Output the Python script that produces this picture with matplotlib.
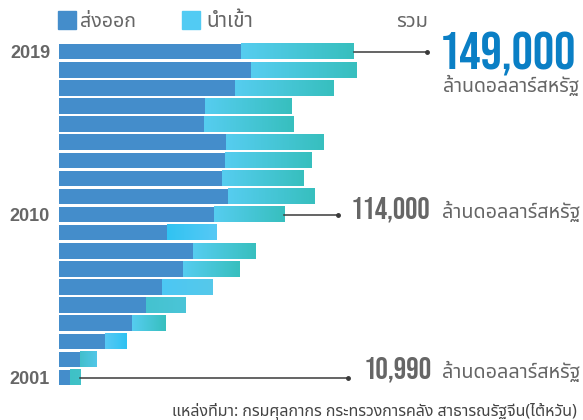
import matplotlib
matplotlib.use("Agg")
import matplotlib.pyplot as plt
import numpy as np
from matplotlib.colors import LinearSegmentedColormap
from matplotlib.patches import Rectangle

# Taiwan-Thailand trade, million USD
years = [2019, 2018, 2017, 2016, 2015, 2014, 2013, 2012, 2011, 2010,
         2009, 2008, 2007, 2006, 2005, 2004, 2003, 2002, 2001]
exports = [92000, 97000, 89000, 74200, 73700, 84800, 84300, 82800, 85400, 78300,
           55000, 67700, 63100, 52500, 44400, 36900, 23700, 11100, 5600]
imports = [57000, 53500, 50000, 43800, 45000, 49000, 43500, 41400, 43900, 35700,
           24800, 31800, 28300, 25300, 20200, 17100, 11100, 8100, 5390]
labelled_years = [2019, 2010, 2001]
labelled_totals = ["149,000", "114,000", "10,990"]

legend_labels = ["ส่งออก", "นำเข้า"]
total_label = "รวม"
unit_label = "ล้านดอลลาร์สหรัฐ"
source_label = "แหล่งที่มา: กรมศุลกากร กระทรวงการคลัง สาธารณรัฐจีน(ไต้หวัน)"

EXPORT_COLOR = "#448dcb"
DEFAULT_GRAD = ("#56cdf0", "#37bfbe")
GRADIENTS = {2009: ("#30c3f2", "#57c9f5"), 2003: ("#57c9f5", "#2ec2f2"),
             2002: ("#42bfcc", "#52c7e8"), 2001: ("#3ec1c6", "#42c2c8"),
             2006: ("#4cc7f4", "#56c9ea"), 2005: ("#44c2cf", "#4bc5d8")}
GRAY = "#666666"
BLUE_BIG = "#0a7fc5"
THAI = ["Noto Sans Thai", "Noto Sans", "DejaVu Sans"]
NUM = ["Bebas Neue", "DejaVu Sans"]

W, H = 583, 420
fig = plt.figure(figsize=(W / 100, H / 100), dpi=100)
fig.patch.set_facecolor("white")

# bar axes: x origin at 58.5 px, 1.98 px per 1000 million USD
x0_px = 58.5
px_per_unit = 1.98 / 1000
ax = fig.add_axes([x0_px / W, 0, 1 - x0_px / W, 1])
ax.set_facecolor("none")
xmax = (W - x0_px) / px_per_unit
ax.set_xlim(0, xmax)
top_year = 2019 + 51.7 / 18.1
bot_year = 2001 - (H - 377.5) / 18.1
ax.set_ylim(bot_year, top_year)

bar_h = 0.86
ax.barh(years, exports, height=bar_h, color=EXPORT_COLOR, zorder=2)
imp_bars = ax.barh(years, imports, left=exports, height=bar_h, color=DEFAULT_GRAD[0], zorder=2)

grad = np.linspace(0, 1, 256).reshape(1, -1)
for yr, patch in zip(years, imp_bars.patches):
    c0, c1 = GRADIENTS.get(yr, DEFAULT_GRAD)
    cmap = LinearSegmentedColormap.from_list("g", [c0, c1])
    x, y, w, h = patch.get_x(), patch.get_y(), patch.get_width(), patch.get_height()
    ax.imshow(grad, extent=[x, x + w, y, y + h], aspect="auto", cmap=cmap,
              interpolation="bilinear", zorder=3)
ax.set_xlim(0, xmax)
ax.set_ylim(bot_year, top_year)

for s in ax.spines.values():
    s.set_visible(False)
ax.set_xticks([])
ax.set_yticks(labelled_years)
ax.set_yticklabels([str(y) for y in labelled_years], fontsize=13, fontweight="bold",
                   color=GRAY, family="Liberation Sans")
ax.tick_params(axis="y", length=0, pad=(x0_px - 50) / 1.389)

# connector lines from the total to the labels
totals = {yr: e + i for yr, e, i in zip(years, exports, imports)}
line_end_px = {2019: 427, 2010: 338, 2001: 348}
for yr in labelled_years:
    xe = (line_end_px[yr] - x0_px) / px_per_unit
    ax.plot([totals[yr], xe], [yr, yr], color="#3a3a3a", lw=1.1, zorder=4)
    ax.plot([xe], [yr], "o", color="#3a3a3a", ms=2.5, zorder=4)

fig.canvas.draw()
renderer = fig.canvas.get_renderer()


def fit(s, xa, xb, base, **kw):
    t = fig.text(xa / W, 1 - base / H, s, ha="left", va="baseline", fontsize=10, **kw)
    w = t.get_window_extent(renderer).width
    t.set_fontsize(10 * (xb - xa) / w)
    return t


# legend
fig.add_artist(Rectangle((58 / W, 1 - 29 / H), 18 / W, 18 / H, transform=fig.transFigure,
                         color=EXPORT_COLOR))
fig.add_artist(Rectangle((182 / W, 1 - 29 / H), 18 / W, 18 / H, transform=fig.transFigure,
                         color="#52cbf3"))
fit(legend_labels[0], 80, 136, 27, color=GRAY, family=THAI)
fit(legend_labels[1], 206, 253, 27, color=GRAY, family=THAI)
fit(total_label, 396, 428, 27, color=GRAY, family=THAI)

# totals
fit(labelled_totals[0], 439, 578, 70, color=BLUE_BIG, family=NUM)
fit(unit_label, 443, 579, 92, color=GRAY, family=THAI)
fit(labelled_totals[1], 351, 432, 218, color=GRAY, family=NUM)
fit(unit_label, 442, 580, 218, color=GRAY, family=THAI)
fit(labelled_totals[2], 364, 433, 378, color=GRAY, family=NUM)
fit(unit_label, 442, 580, 378, color=GRAY, family=THAI)

fit(source_label, 172, 578, 416, color="#444444", family=THAI)

fig.savefig("out.png", dpi=100)
